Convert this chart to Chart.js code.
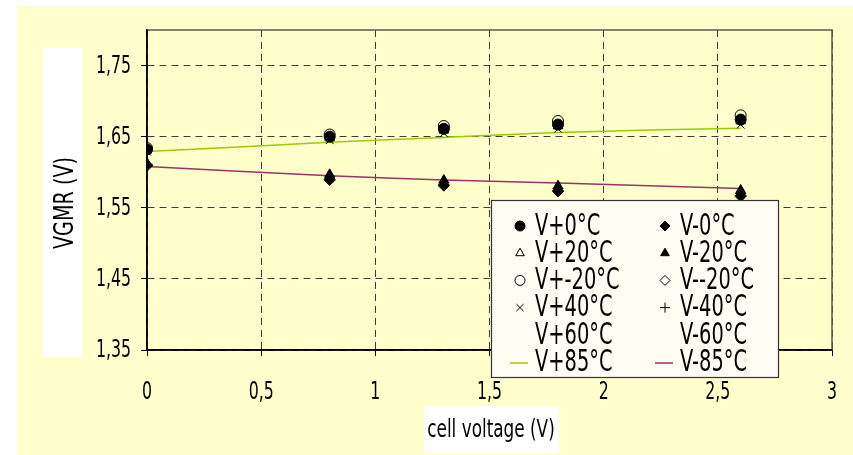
<!DOCTYPE html>
<html>
<head>
<meta charset="utf-8">
<script src="https://cdn.jsdelivr.net/npm/chart.js@4.4.1/dist/chart.umd.min.js"></script>
<style>
  body { margin: 0; background: #ffffff; }
  #chart { display: block; }
</style>
</head>
<body>
<canvas id="chart" width="853" height="455"></canvas>
<script>
// data
const xValues = [0, 0.8, 1.3, 1.8, 2.6];

const vPlus0    = [1.632, 1.650, 1.661, 1.667, 1.674];
const vMinus0   = [1.610, 1.590, 1.582, 1.574, 1.567];
const vPlus20   = [1.631, 1.648, 1.659, 1.665, 1.672];
const vMinus20  = [1.613, 1.597, 1.589, 1.581, 1.575];
const vPlusM20  = [1.634, 1.653, 1.665, 1.672, 1.680];
const vMinusM20 = [1.609, 1.589, 1.581, 1.573, 1.566];
const vPlus40   = [1.629, 1.645, 1.655, 1.661, 1.667];
const vMinus40  = [1.611, 1.593, 1.585, 1.577, 1.570];
const vPlus60   = [1.632, 1.649, 1.660, 1.666, 1.673];
const vMinus60  = [1.611, 1.593, 1.585, 1.577, 1.570];
const vPlus85   = [1.629, 1.642, 1.649, 1.656, 1.662];
const vMinus85  = [1.608, 1.595, 1.589, 1.585, 1.577];

const seriesLabels = ['V+0°C', 'V-0°C', 'V+20°C', 'V-20°C', 'V+-20°C', 'V--20°C',
                      'V+40°C', 'V-40°C', 'V+60°C', 'V-60°C', 'V+85°C', 'V-85°C'];
const seriesValues = [vPlus0, vMinus0, vPlus20, vMinus20, vPlusM20, vMinusM20,
                      vPlus40, vMinus40, vPlus60, vMinus60, vPlus85, vMinus85];

const yTicks = [1.35, 1.45, 1.55, 1.65, 1.75];
const xTicks = [0, 0.5, 1, 1.5, 2, 2.5, 3];
const xTitle = 'cell voltage (V)';
const yTitle = 'VGMR (V)';

const FONT = '"Liberation Sans Narrow", "DejaVu Sans Condensed", "Liberation Sans", sans-serif';
const YELLOW = 'rgb(255, 255, 204)';

// marker look per series, same order as the labels
const looks = [
    {style: 'circle',   fill: '#000'},
    {style: 'rectRot',  fill: '#000'},
    {style: 'triangle', fill: 'rgba(0,0,0,0)'},
    {style: 'triangle', fill: '#000'},
    {style: 'circle',   fill: 'rgba(0,0,0,0)'},
    {style: 'rectRot',  fill: 'rgba(0,0,0,0)'},
    {style: 'crossRot', fill: 'rgba(0,0,0,0)'},
    {style: 'cross',    fill: 'rgba(0,0,0,0)'},
    {style: false},
    {style: false},
    {line: '#99cc00'},
    {line: '#993366'}
];

const datasets = seriesLabels.map((label, i) => {
    const look = looks[i];
    const points = xValues.map((x, j) => ({x: x, y: seriesValues[i][j]}));
    if (look.line) {
        return {
            label: label, data: points, showLine: true,
            borderColor: look.line, borderWidth: 1.5,
            pointRadius: 0, tension: 0.3, fill: false, look: look
        };
    }
    return {
        label: label, data: points, showLine: false,
        pointStyle: look.style || 'circle',
        pointRadius: look.style ? 5.5 : 0,
        pointBackgroundColor: look.fill || 'rgba(0,0,0,0)',
        pointBorderColor: '#000', pointBorderWidth: 1,
        look: look
    };
});

const comma = (v, d) => {
    let s = d ? v.toFixed(d) : String(v);
    return s.replace('.', ',');
};

// narrow text: the original uses a condensed face
function narrowText(ctx, text, x, y, sx, angle) {
    ctx.save();
    ctx.translate(x, y);
    if (angle) ctx.rotate(angle);
    ctx.scale(sx, 1);
    ctx.fillText(text, 0, 0);
    ctx.restore();
}

const paperPlugin = {
    id: 'paper',
    beforeDraw(chart) {
        const ctx = chart.ctx;
        ctx.save();
        ctx.fillStyle = '#ffffff';
        ctx.fillRect(0, 0, chart.width, chart.height);
        ctx.fillStyle = YELLOW;
        ctx.fillRect(17, 6, 836, 449);
        // white boxes behind the axis titles
        ctx.fillStyle = '#ffffff';
        ctx.fillRect(43, 48, 39, 309);
        ctx.fillRect(424, 406, 135, 47);

        ctx.fillStyle = '#000';
        ctx.textAlign = 'center';
        ctx.textBaseline = 'middle';
        ctx.font = '25px ' + FONT;
        narrowText(ctx, xTitle, 491, 430, 0.75);
        ctx.font = '27px ' + FONT;
        narrowText(ctx, yTitle, 66, 203, 0.79, -Math.PI / 2);
        ctx.restore();
    },
    beforeDatasetsDraw(chart) {
        const {ctx, chartArea: a, scales} = chart;
        ctx.save();
        // frame: solid axes left/bottom, grey top/right
        ctx.strokeStyle = '#5a5a50';
        ctx.lineWidth = 1.5;
        ctx.beginPath();
        ctx.moveTo(a.left, a.top);
        ctx.lineTo(a.right, a.top);
        ctx.lineTo(a.right, a.bottom);
        ctx.stroke();
        ctx.strokeStyle = '#000';
        ctx.beginPath();
        ctx.moveTo(a.left, a.top);
        ctx.lineTo(a.left, a.bottom);
        ctx.lineTo(a.right, a.bottom);
        ctx.stroke();

        // tick labels, placed by the scales
        ctx.fillStyle = '#000';
        ctx.font = '24px ' + FONT;
        ctx.textBaseline = 'middle';
        ctx.textAlign = 'right';
        yTicks.forEach(v => {
            narrowText(ctx, comma(v, 2), 131, scales.y.getPixelForValue(v) + 1, 0.73);
        });
        ctx.textAlign = 'center';
        xTicks.forEach(v => {
            narrowText(ctx, comma(v), scales.x.getPixelForValue(v), 393, 0.73);
        });
        ctx.restore();
    },
    afterDraw(chart) {
        const ctx = chart.ctx;
        ctx.save();
        ctx.fillStyle = '#fffdf3';
        ctx.fillRect(491, 200, 288, 178);
        ctx.strokeStyle = '#333';
        ctx.lineWidth = 1.2;
        ctx.strokeRect(491.5, 200.5, 287, 177);

        ctx.font = '30px ' + FONT;
        ctx.textAlign = 'left';
        ctx.textBaseline = 'middle';
        chart.data.datasets.forEach((ds, i) => {
            const row = Math.floor(i / 2);
            const col = i % 2;
            const y = 226 + row * 27.2;
            const mx = col ? 665 : 520;
            const tx = col ? 680 : 535;
            const look = ds.look;
            if (look.line) {
                ctx.strokeStyle = look.line;
                ctx.lineWidth = 1.5;
                ctx.beginPath();
                ctx.moveTo(mx - 10, y + 1);
                ctx.lineTo(mx + 8, y + 1);
                ctx.stroke();
            } else if (look.style) {
                ctx.fillStyle = look.fill;
                ctx.strokeStyle = '#000';
                ctx.lineWidth = 1;
                Chart.helpers.drawPoint(ctx, {
                    pointStyle: look.style, radius: 5, borderWidth: 1, rotation: 0
                }, mx, y);
            }
            ctx.fillStyle = '#000';
            narrowText(ctx, ds.label, tx, y + 1, 0.72);
        });
        ctx.restore();
    }
};

const gridDash = [7, 5];

new Chart(document.getElementById('chart'), {
    type: 'line',
    data: {datasets: datasets},
    options: {
        responsive: false,
        animation: false,
        devicePixelRatio: 1,
        layout: {padding: {left: 0, top: 30, right: 21, bottom: 0}},
        plugins: {legend: {display: false}, tooltip: {enabled: false}},
        scales: {
            x: {
                type: 'linear', min: 0, max: 3,
                afterBuildTicks: (s) => { s.ticks = xTicks.map(v => ({value: v})); },
                afterFit: (s) => { s.height = 105; },
                grid: {color: '#3c3c3c', tickColor: '#000', tickLength: 6, lineWidth: 1},
                border: {color: '#000', width: 1.5, dash: gridDash},
                ticks: {display: false}
            },
            y: {
                type: 'linear', min: 1.35, max: 1.8,
                afterBuildTicks: (s) => { s.ticks = yTicks.map(v => ({value: v})); },
                afterFit: (s) => { s.width = 147; },
                grid: {color: '#3c3c3c', tickColor: '#000', tickLength: 6, lineWidth: 1},
                border: {color: '#000', width: 1.5, dash: gridDash},
                ticks: {display: false}
            }
        }
    },
    plugins: [paperPlugin]
});
</script>
</body>
</html>
